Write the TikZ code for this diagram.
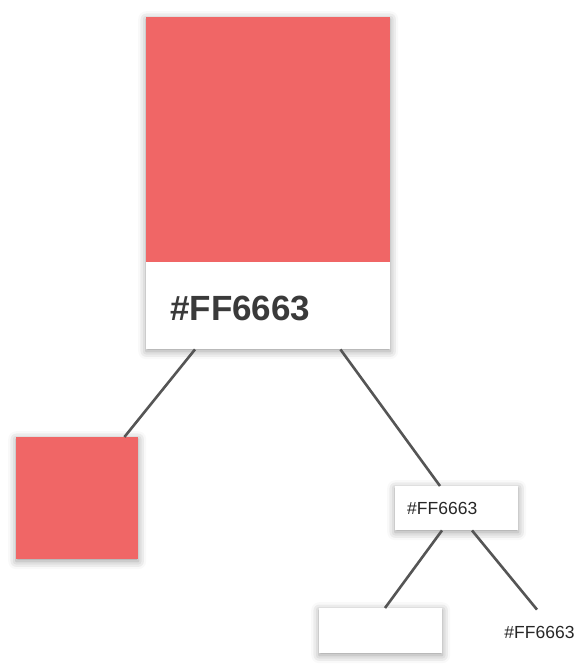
\documentclass[tikz,border=0pt]{standalone}
\usepackage{fontspec}
\setmainfont{Liberation Sans}
\usetikzlibrary{shadows.blur}
\definecolor{swatch}{HTML}{F06666}
\definecolor{ink}{HTML}{3A3A3A}
\definecolor{smallink}{HTML}{262626}
\definecolor{wire}{HTML}{555555}

\begin{document}
\begin{tikzpicture}[x = 1pt, y = -1pt,
  every node/.style = {shape = rectangle, inner sep = 0pt, anchor = north west},
  soft/.style = {blur shadow = {shadow xshift = 0pt, shadow yshift = -2pt, shadow blur radius = 8pt, shadow opacity = 40}},
  link/.style = {draw = wire, line width = 2.6pt}]
  \useasboundingbox (0,0) rectangle (575,669);
  \node[fill = white, soft, minimum width = 244pt, minimum height = 332pt](card) at (146,17) {};
  \node[fill = swatch, minimum width = 244pt, minimum height = 245pt](c1) at (146,17) {};
  \node[fill = white, minimum width = 244pt, minimum height = 87pt, text width = 196pt, inner xsep = 24pt,
        text height = 30pt, align = left, text = ink, font = \fontsize{35}{40}\selectfont\bfseries](l1) at (146,262) {\#FF6663};
  \node[fill = swatch, soft, minimum size = 122pt](c2) at (16,437) {};
  \node[fill = white, soft, minimum width = 123pt, minimum height = 44pt, text width = 99pt, inner xsep = 12pt,
        align = left, text = smallink, font = \fontsize{17.5}{20}\selectfont](l2) at (395,486) {\#FF6663};
  \node[fill = white, soft, minimum width = 123pt, minimum height = 45pt](c3) at (319,608) {};
  \node[anchor = center, text = smallink, font = \fontsize{17.5}{20}\selectfont](l3) at (539.5,632) {\#FF6663};
  \draw[link] ([xshift = 49pt]l1.south west) -- ([xshift = -14pt]c2.north east);
  \draw[link] ([xshift = -50pt]l1.south east) -- ([xshift = 45pt]l2.north west);
  \draw[link] ([xshift = 47pt]l2.south west) -- ([xshift = 66pt]c3.north west);
  \draw[link] ([xshift = 77pt]l2.south west) -- ([xshift = -2.5pt, yshift = 16pt]l3.north);
\end{tikzpicture}
\end{document}
